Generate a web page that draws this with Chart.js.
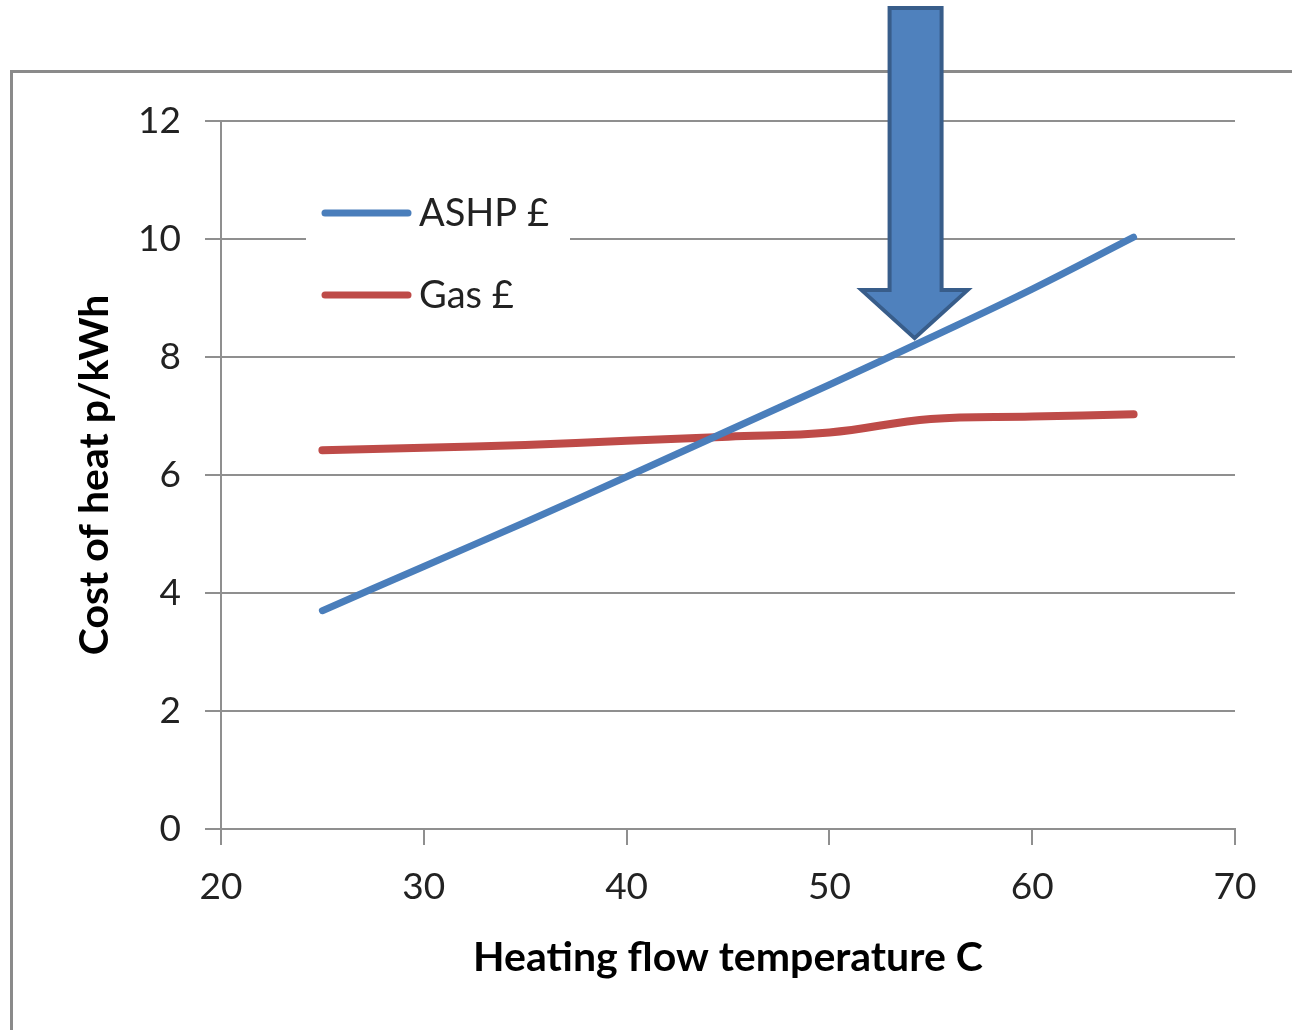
<!DOCTYPE html>
<html>
<head>
<meta charset="utf-8">
<script src="https://cdn.jsdelivr.net/npm/chart.js@4"></script>
<style>
  body { margin: 0; background: #fff; }
  canvas { display: block; }
</style>
</head>
<body>
<canvas id="heatChart" width="1292" height="1030"></canvas>
<script>
// flow temperature (C) and cost of heat (p/kWh)
var flowTemps = [25, 30, 35, 40, 45, 50, 55, 60, 65];
var ashpCost = [3.70, 4.45, 5.20, 5.97, 6.75, 7.53, 8.33, 9.15, 10.03];
var gasCost = [6.42, 6.46, 6.51, 6.58, 6.65, 6.72, 6.95, 6.99, 7.03];
var xTicks = [20, 30, 40, 50, 60, 70];
var yTicks = [0, 2, 4, 6, 8, 10, 12];

var FONT = "Lato, 'Open Sans', sans-serif";
var gridGrey = "#8f8f8f";

function toPoints(xs, ys) {
  return xs.map(function (x, i) { return { x: x, y: ys[i] }; });
}

// grey frame round the chart, cut off at the right and bottom
var framePlugin = {
  id: "frame",
  beforeDraw: function (chart) {
    var c = chart.ctx;
    c.save();
    c.strokeStyle = "#8a8a8a";
    c.lineWidth = 3;
    c.strokeRect(11.5, 71.5, 1400, 1100);
    c.restore();
  }
};

// legend sitting inside the plot, on a white box
var innerLegend = {
  id: "innerLegend",
  afterDraw: function (chart) {
    var c = chart.ctx;
    c.save();
    c.fillStyle = "#fff";
    c.fillRect(306, 180, 264, 140);
    var rows = [213, 295];
    chart.data.datasets.forEach(function (ds, i) {
      var y = rows[i];
      c.strokeStyle = ds.borderColor;
      c.lineWidth = 7;
      c.lineCap = "round";
      c.beginPath();
      c.moveTo(325, y);
      c.lineTo(408, y);
      c.stroke();
      c.fillStyle = "#222";
      c.font = "38px " + FONT;
      c.textBaseline = "middle";
      c.textAlign = "left";
      c.fillText(ds.label, 419, y + 1);
    });
    c.restore();
  }
};

// big downward arrow pointing at the ASHP line
var arrowPlugin = {
  id: "arrow",
  afterDraw: function (chart) {
    var xs = chart.scales.x, ys = chart.scales.y;
    var tx = xs.getPixelForValue(54.2);
    var ty = ys.getPixelForValue(8.32);
    var c = chart.ctx;
    c.save();
    c.beginPath();
    c.moveTo(tx, ty);
    c.lineTo(tx - 53, ty - 48);
    c.lineTo(tx - 25, ty - 48);
    c.lineTo(tx - 25, 8);
    c.lineTo(tx + 27, 8);
    c.lineTo(tx + 27, ty - 48);
    c.lineTo(tx + 53, ty - 48);
    c.closePath();
    c.fillStyle = "#4F81BD";
    c.fill();
    c.lineWidth = 4;
    c.strokeStyle = "#385D8A";
    c.lineJoin = "miter";
    c.stroke();
    c.restore();
  }
};

var ctx = document.getElementById("heatChart").getContext("2d");
var myChart = new Chart(ctx, {
  type: "line",
  data: {
    datasets: [
      {
        label: "ASHP £",
        data: toPoints(flowTemps, ashpCost),
        borderColor: "#4A7EBB",
        backgroundColor: "#4A7EBB",
        borderWidth: 7,
        borderCapStyle: "round",
        pointRadius: 0,
        tension: 0.4
      },
      {
        label: "Gas £",
        data: toPoints(flowTemps, gasCost),
        borderColor: "#BE4B48",
        backgroundColor: "#BE4B48",
        borderWidth: 8,
        borderCapStyle: "round",
        pointRadius: 0,
        tension: 0.4
      }
    ]
  },
  options: {
    responsive: false,
    animation: false,
    layout: { padding: { left: 0, top: 121, right: 57, bottom: 0 } },
    plugins: {
      legend: { display: false },
      tooltip: { enabled: false }
    },
    scales: {
      x: {
        type: "linear",
        min: 20,
        max: 70,
        afterBuildTicks: function (scale) {
          scale.ticks = xTicks.map(function (v) { return { value: v }; });
        },
        afterFit: function (scale) { scale.height = 201; },
        border: { color: gridGrey, width: 2 },
        grid: {
          drawOnChartArea: false,
          color: gridGrey,
          lineWidth: 2,
          tickLength: 16
        },
        ticks: {
          color: "#222",
          padding: 20,
          maxRotation: 0,
          font: { family: FONT, size: 37 }
        },
        title: {
          display: true,
          text: "Heating flow temperature C",
          color: "#000",
          padding: { top: 0, bottom: 48 },
          font: { family: FONT, size: 41, weight: "bold" }
        }
      },
      y: {
        min: 0,
        max: 12,
        afterBuildTicks: function (scale) {
          scale.ticks = yTicks.map(function (v) { return { value: v }; });
        },
        afterFit: function (scale) { scale.width = 221; },
        border: { color: gridGrey, width: 2 },
        grid: {
          color: gridGrey,
          lineWidth: 2,
          tickLength: 16
        },
        ticks: {
          color: "#222",
          padding: 24,
          font: { family: FONT, size: 37 }
        },
        title: {
          display: true,
          text: "Cost of heat p/kWh",
          color: "#000",
          padding: { top: 70, bottom: 0 },
          font: { family: FONT, size: 41, weight: "bold" }
        }
      }
    }
  },
  plugins: [framePlugin, innerLegend, arrowPlugin]
});
</script>
</body>
</html>
